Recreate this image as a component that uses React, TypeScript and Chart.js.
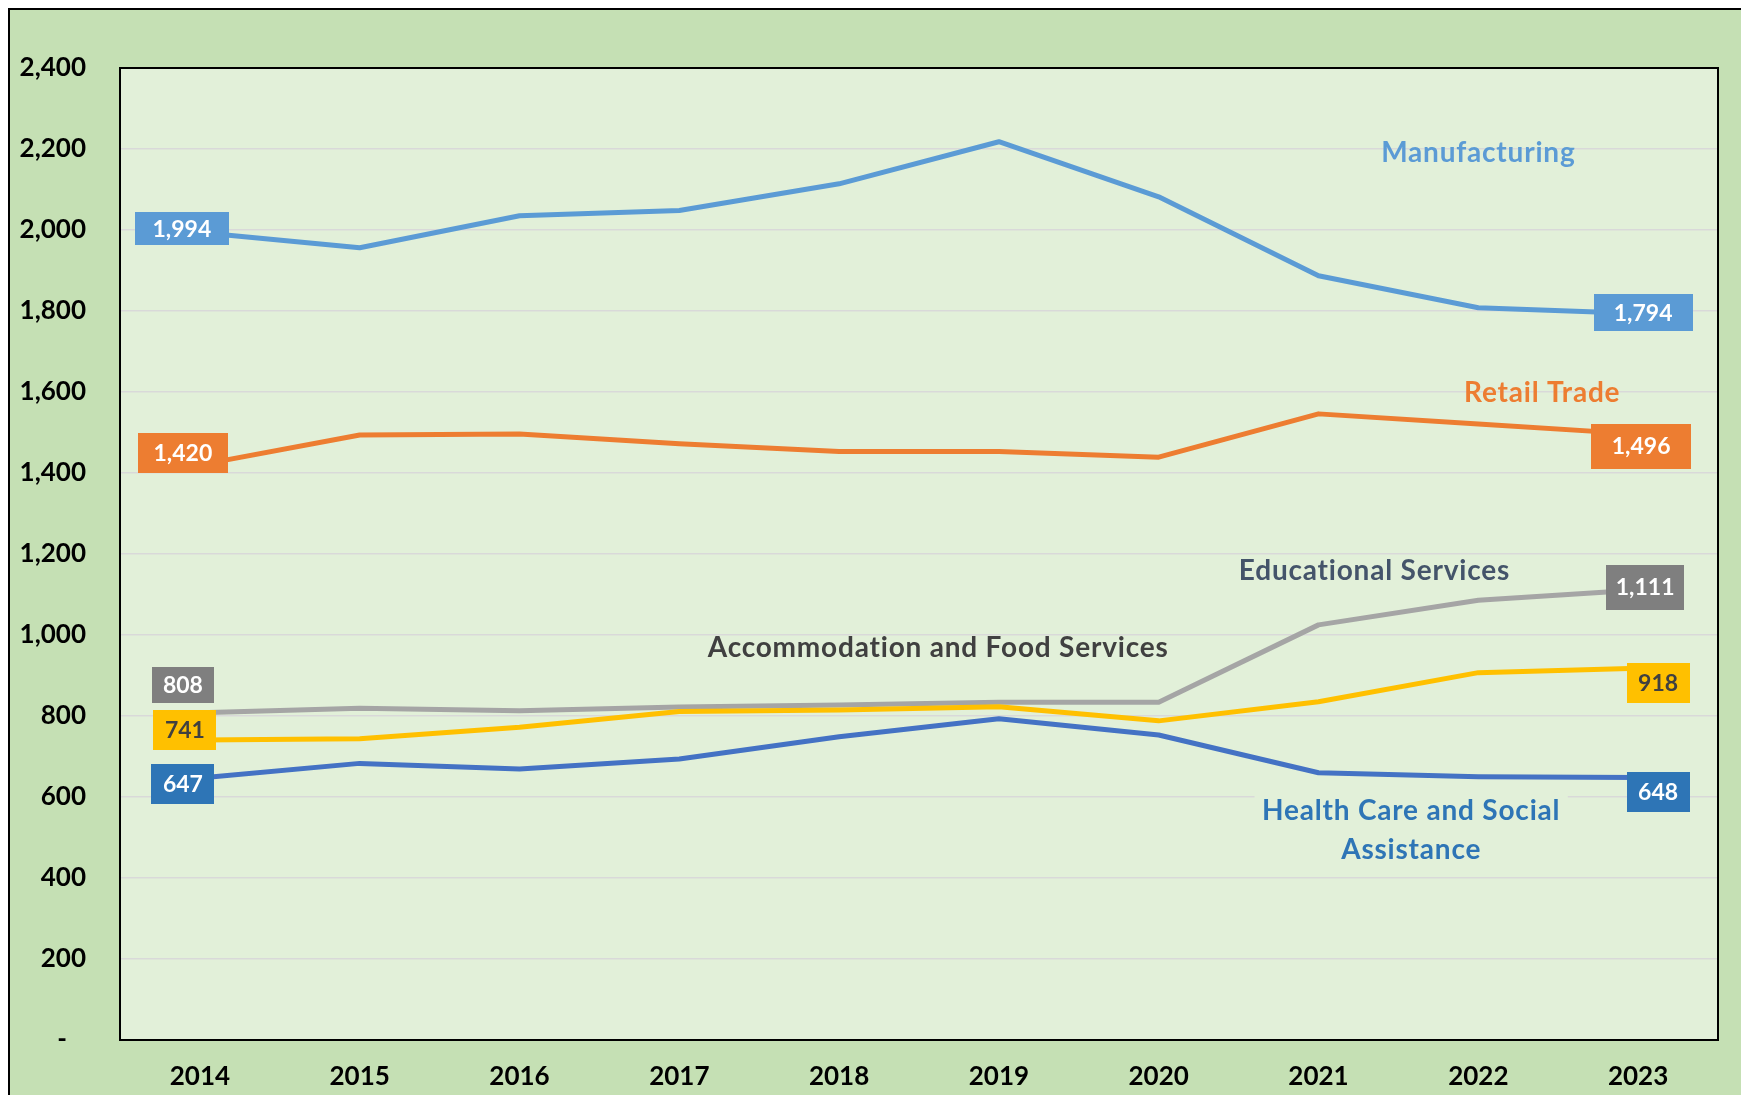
import React, { useEffect, useRef } from 'react';
import { Chart, registerables } from 'chart.js';

Chart.register(...registerables);

// ---------- data ----------
const years = ['2014', '2015', '2016', '2017', '2018', '2019', '2020', '2021', '2022', '2023'];
const manufacturing = [1994, 1956, 2035, 2048, 2114, 2218, 2082, 1887, 1808, 1794];
const retailTrade = [1420, 1494, 1496, 1472, 1453, 1453, 1439, 1546, 1521, 1496];
const educationalServices = [808, 819, 813, 822, 827, 834, 834, 1025, 1086, 1111];
const accommodationFood = [741, 744, 772, 811, 815, 823, 788, 835, 907, 918];
const healthCare = [647, 683, 669, 694, 749, 793, 753, 660, 650, 648];

const yMin = 0;
const yMax = 2400;
const yStep = 200;

// ---------- styling ----------
const FONT = 'Lato, "Open Sans", sans-serif';
const OUTER_BG = '#C5E0B4';
const PLOT_BG = '#E2F0D9';
const GRID = '#D9D9D9';

type SeriesKey = 'man' | 'ret' | 'edu' | 'acc' | 'hea';

const seriesData: Record<SeriesKey, number[]> = {
  man: manufacturing,
  ret: retailTrade,
  edu: educationalServices,
  acc: accommodationFood,
  hea: healthCare,
};

// dataset order: first drawn on top
const seriesDefs: { key: SeriesKey; label: string; color: string }[] = [
  { key: 'hea', label: 'Health Care and Social Assistance', color: '#4472C4' },
  { key: 'acc', label: 'Accommodation and Food Services', color: '#FFC000' },
  { key: 'edu', label: 'Educational Services', color: '#A5A5A5' },
  { key: 'ret', label: 'Retail Trade', color: '#ED7D31' },
  { key: 'man', label: 'Manufacturing', color: '#5B9BD5' },
];

// value boxes at the ends of each line (offsets relative to the point, in px)
const valueBoxes: { key: SeriesKey; idx: number; dx: number; dy: number; w: number; h: number; bg: string; fg: string }[] = [
  { key: 'man', idx: 0, dx: -18, dy: -4, w: 94, h: 33, bg: '#5B9BD5', fg: '#FFFFFF' },
  { key: 'man', idx: 9, dx: 5, dy: -1, w: 99, h: 37, bg: '#5B9BD5', fg: '#FFFFFF' },
  { key: 'ret', idx: 0, dx: -17, dy: -12, w: 90, h: 40, bg: '#ED7D31', fg: '#FFFFFF' },
  { key: 'ret', idx: 9, dx: 3, dy: 12, w: 100, h: 45, bg: '#ED7D31', fg: '#FFFFFF' },
  { key: 'edu', idx: 0, dx: -17, dy: -28, w: 62, h: 36, bg: '#7F7F7F', fg: '#FFFFFF' },
  { key: 'edu', idx: 9, dx: 7, dy: -3, w: 78, h: 45, bg: '#7F7F7F', fg: '#FFFFFF' },
  { key: 'acc', idx: 0, dx: -15, dy: -10, w: 63, h: 40, bg: '#FFC000', fg: '#404040' },
  { key: 'acc', idx: 9, dx: 20, dy: 15, w: 63, h: 40, bg: '#FFC000', fg: '#404040' },
  { key: 'hea', idx: 0, dx: -17, dy: 6, w: 63, h: 40, bg: '#2E75B6', fg: '#FFFFFF' },
  { key: 'hea', idx: 9, dx: 20, dy: 14, w: 63, h: 40, bg: '#2E75B6', fg: '#FFFFFF' },
];

// series name annotations (x in category index units, y in data units = cap centre)
const seriesNotes: { text: string; xIdx: number; yVal: number; color: string }[] = [
  { text: 'Manufacturing', xIdx: 8.0, yVal: 2193, color: '#5B9BD5' },
  { text: 'Retail Trade', xIdx: 8.4, yVal: 1600, color: '#ED7D31' },
  { text: 'Educational Services', xIdx: 7.35, yVal: 1160, color: '#44546A' },
  { text: 'Accommodation and Food Services', xIdx: 4.62, yVal: 970, color: '#404040' },
  { text: 'Health Care and Social', xIdx: 7.58, yVal: 568, color: '#2E75B6' },
  { text: 'Assistance', xIdx: 7.58, yVal: 472, color: '#2E75B6' },
];
// background patch behind the Health Care note (index range, value range)
const healthPatch = { x0: 6.6, x1: 8.56, y0: 425, y1: 622 };

const fmt = (v: number) => v.toLocaleString('en-US');

const decorPlugin = {
  id: 'decor',
  beforeDraw(chart: any) {
    const { ctx, chartArea: a } = chart;
    ctx.save();
    ctx.fillStyle = PLOT_BG;
    ctx.fillRect(a.left, a.top, a.right - a.left, a.bottom - a.top);
    ctx.restore();
  },
  beforeDatasetsDraw(chart: any) {
    const { ctx, chartArea: a } = chart;
    const xs = chart.scales.x;
    const ys = chart.scales.y;
    ctx.save();
    const px0 = xs.getPixelForValue(healthPatch.x0);
    const px1 = Math.min(xs.getPixelForValue(healthPatch.x1), a.right - 1);
    const py0 = ys.getPixelForValue(healthPatch.y1);
    const py1 = ys.getPixelForValue(healthPatch.y0);
    ctx.fillStyle = PLOT_BG;
    ctx.fillRect(px0, py0, px1 - px0, py1 - py0);
    ctx.strokeStyle = '#000000';
    ctx.lineWidth = 2;
    ctx.strokeRect(a.left, a.top, a.right - a.left, a.bottom - a.top);
    ctx.restore();
  },
  afterDatasetsDraw(chart: any) {
    const { ctx } = chart;
    const xs = chart.scales.x;
    const ys = chart.scales.y;
    ctx.save();
    const noteSize = 28;
    ctx.font = `bold ${noteSize}px ${FONT}`;
    try { (ctx as any).letterSpacing = '0.8px'; } catch (e) { /* ignore */ }
    ctx.textAlign = 'center';
    ctx.textBaseline = 'alphabetic';
    for (const n of seriesNotes) {
      const x = xs.getPixelForValue(n.xIdx);
      const y = ys.getPixelForValue(n.yVal) + noteSize * 0.358;
      ctx.fillStyle = n.color;
      ctx.fillText(n.text, x, y);
    }
    const boxSize = 23;
    ctx.font = `bold ${boxSize}px ${FONT}`;
    try { (ctx as any).letterSpacing = '0px'; } catch (e) { /* ignore */ }
    for (const b of valueBoxes) {
      const v = seriesData[b.key][b.idx];
      const cx = xs.getPixelForValue(b.idx) + b.dx;
      const cy = ys.getPixelForValue(v) + b.dy;
      ctx.fillStyle = b.bg;
      ctx.fillRect(Math.round(cx - b.w / 2), Math.round(cy - b.h / 2), b.w, b.h);
      ctx.fillStyle = b.fg;
      ctx.fillText(fmt(v), cx, cy + boxSize * 0.358);
    }
    ctx.restore();
  },
};

export default function App() {
  const canvasRef = useRef<HTMLCanvasElement | null>(null);

  useEffect(() => {
    if (!canvasRef.current) return;
    const chart = new Chart(canvasRef.current, {
      type: 'line',
      data: {
        labels: years,
        datasets: seriesDefs.map((s) => ({
          label: s.label,
          data: seriesData[s.key],
          borderColor: s.color,
          backgroundColor: s.color,
          borderWidth: 5,
          pointRadius: 0,
          pointHoverRadius: 0,
          tension: 0,
          borderJoinStyle: 'round' as const,
          borderCapStyle: 'butt' as const,
          fill: false,
        })),
      },
      options: {
        animation: false,
        responsive: true,
        maintainAspectRatio: false,
        events: [],
        layout: { padding: { left: 0, top: 58, right: 23, bottom: 0 } },
        plugins: {
          legend: { display: false },
          tooltip: { enabled: false },
          title: { display: false },
        },
        scales: {
          x: {
            type: 'category',
            offset: true,
            grid: { display: false, drawTicks: false },
            border: { display: false },
            ticks: {
              color: '#000000',
              font: { family: FONT, size: 26, weight: 'bold' },
              padding: 21,
              maxRotation: 0,
              autoSkip: false,
            },
            afterFit: (scale: any) => {
              scale.height = 55;
            },
          },
          y: {
            type: 'linear',
            min: yMin,
            max: yMax,
            grid: { color: GRID, lineWidth: 1.5, drawTicks: false },
            border: { display: false },
            ticks: {
              stepSize: yStep,
              color: '#000000',
              font: { family: FONT, size: 26, weight: 'bold' },
              padding: 34,
              callback: (v: any) => (Number(v) === 0 ? '-   ' : fmt(Number(v))),
            },
            afterFit: (scale: any) => {
              scale.width = 110;
            },
          },
        },
      },
      plugins: [decorPlugin],
    });
    return () => chart.destroy();
  }, []);

  return (
    <div
      style={{
        position: 'fixed',
        left: 8,
        top: 8,
        width: 1780,
        height: 1140,
        border: '2px solid #000000',
        background: OUTER_BG,
        overflow: 'hidden',
      }}
    >
      <div style={{ position: 'relative', width: 1731, height: 1085 }}>
        <canvas ref={canvasRef} />
      </div>
    </div>
  );
}
